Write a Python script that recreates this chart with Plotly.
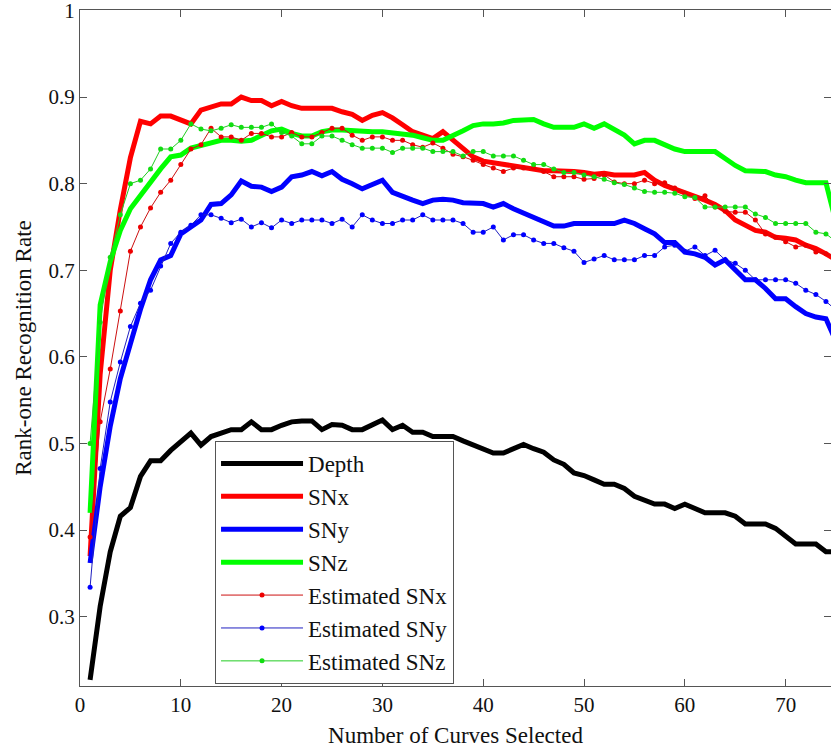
import plotly.graph_objects as go

x_curves = list(range(1, 76))

depth = [0.227, 0.312, 0.375, 0.416, 0.426, 0.462, 0.480, 0.480, 0.492, 0.502,
         0.512, 0.498, 0.508, 0.512, 0.516, 0.516, 0.525, 0.516, 0.516, 0.521,
         0.525, 0.526, 0.526, 0.516, 0.522, 0.521, 0.516, 0.516, 0.522, 0.527,
         0.516, 0.521, 0.513, 0.513, 0.508, 0.508, 0.508, 0.503, 0.498, 0.493,
         0.489, 0.489, 0.494, 0.499, 0.494, 0.490, 0.481, 0.476, 0.466, 0.463,
         0.458, 0.453, 0.453, 0.448, 0.439, 0.434, 0.430, 0.430, 0.425, 0.430,
         0.425, 0.420, 0.420, 0.420, 0.416, 0.407, 0.407, 0.407, 0.402, 0.393,
         0.384, 0.384, 0.384, 0.375, 0.375]

snx = [0.370, 0.580, 0.700, 0.770, 0.830, 0.872, 0.869, 0.878, 0.878, 0.874,
       0.869, 0.885, 0.888, 0.892, 0.892, 0.900, 0.896, 0.896, 0.890, 0.895,
       0.890, 0.887, 0.887, 0.887, 0.887, 0.883, 0.880, 0.873, 0.879, 0.882,
       0.876, 0.868, 0.860, 0.856, 0.852, 0.860, 0.850, 0.840, 0.831, 0.826,
       0.824, 0.822, 0.820, 0.818, 0.817, 0.815, 0.815, 0.815, 0.814, 0.813,
       0.811, 0.812, 0.810, 0.810, 0.810, 0.813, 0.804, 0.798, 0.794, 0.789,
       0.785, 0.781, 0.776, 0.769, 0.758, 0.752, 0.746, 0.744, 0.738, 0.737,
       0.735, 0.729, 0.725, 0.719, 0.712]

sny = [0.362, 0.450, 0.520, 0.575, 0.615, 0.655, 0.689, 0.712, 0.717, 0.742,
       0.750, 0.758, 0.776, 0.777, 0.787, 0.803, 0.797, 0.796, 0.791, 0.796,
       0.808, 0.810, 0.814, 0.809, 0.814, 0.805, 0.800, 0.794, 0.799, 0.804,
       0.790, 0.785, 0.781, 0.777, 0.781, 0.782, 0.781, 0.778, 0.778, 0.777,
       0.773, 0.777, 0.771, 0.766, 0.761, 0.756, 0.751, 0.751, 0.754, 0.754,
       0.754, 0.754, 0.754, 0.758, 0.754, 0.748, 0.742, 0.732, 0.732, 0.721,
       0.719, 0.715, 0.706, 0.712, 0.700, 0.689, 0.689, 0.679, 0.667, 0.667,
       0.658, 0.650, 0.646, 0.644, 0.618]

snz = [0.420, 0.660, 0.710, 0.746, 0.771, 0.787, 0.802, 0.817, 0.831, 0.833,
       0.841, 0.844, 0.848, 0.850, 0.850, 0.849, 0.850, 0.855, 0.861, 0.863,
       0.858, 0.855, 0.855, 0.860, 0.862, 0.862, 0.861, 0.860, 0.860, 0.860,
       0.859, 0.858, 0.856, 0.853, 0.850, 0.850, 0.855, 0.861, 0.867, 0.869,
       0.869, 0.870, 0.873, 0.874, 0.874, 0.869, 0.865, 0.865, 0.865, 0.869,
       0.864, 0.869, 0.862, 0.856, 0.846, 0.850, 0.850, 0.845, 0.840, 0.837,
       0.837, 0.837, 0.837, 0.829, 0.821, 0.815, 0.814, 0.814, 0.810, 0.808,
       0.804, 0.801, 0.801, 0.801, 0.755]

est_snx = [0.392, 0.525, 0.586, 0.653, 0.722, 0.750, 0.772, 0.790, 0.804, 0.822,
           0.840, 0.845, 0.864, 0.854, 0.854, 0.850, 0.858, 0.858, 0.854, 0.854,
           0.859, 0.854, 0.854, 0.859, 0.864, 0.864, 0.856, 0.850, 0.854, 0.854,
           0.850, 0.850, 0.845, 0.842, 0.847, 0.841, 0.834, 0.831, 0.827, 0.822,
           0.818, 0.814, 0.818, 0.818, 0.818, 0.814, 0.808, 0.808, 0.808, 0.805,
           0.806, 0.810, 0.802, 0.800, 0.800, 0.804, 0.800, 0.801, 0.795, 0.789,
           0.783, 0.786, 0.773, 0.768, 0.767, 0.767, 0.758, 0.742, 0.738, 0.733,
           0.727, 0.729, 0.721, 0.719, 0.715]

est_sny = [0.334, 0.471, 0.548, 0.594, 0.635, 0.662, 0.677, 0.705, 0.731, 0.744,
           0.752, 0.764, 0.764, 0.760, 0.755, 0.759, 0.750, 0.755, 0.749, 0.758,
           0.754, 0.758, 0.758, 0.758, 0.754, 0.759, 0.750, 0.764, 0.758, 0.754,
           0.754, 0.758, 0.758, 0.764, 0.758, 0.758, 0.758, 0.754, 0.744, 0.744,
           0.750, 0.735, 0.741, 0.741, 0.735, 0.731, 0.731, 0.726, 0.722, 0.709,
           0.713, 0.717, 0.712, 0.712, 0.712, 0.717, 0.717, 0.727, 0.729, 0.722,
           0.727, 0.717, 0.723, 0.712, 0.708, 0.700, 0.689, 0.689, 0.689, 0.689,
           0.685, 0.677, 0.672, 0.664, 0.654]

est_snz = [0.500, 0.640, 0.715, 0.764, 0.800, 0.804, 0.817, 0.840, 0.840, 0.850,
           0.869, 0.863, 0.861, 0.864, 0.868, 0.865, 0.865, 0.865, 0.869, 0.859,
           0.855, 0.846, 0.846, 0.855, 0.855, 0.850, 0.845, 0.841, 0.841, 0.841,
           0.836, 0.841, 0.841, 0.841, 0.837, 0.837, 0.837, 0.832, 0.837, 0.837,
           0.832, 0.832, 0.832, 0.827, 0.822, 0.822, 0.817, 0.813, 0.813, 0.810,
           0.808, 0.805, 0.801, 0.799, 0.795, 0.791, 0.790, 0.790, 0.789, 0.785,
           0.784, 0.773, 0.773, 0.773, 0.773, 0.773, 0.765, 0.761, 0.754, 0.754,
           0.754, 0.754, 0.744, 0.742, 0.733]

x_ticks = [0, 10, 20, 30, 40, 50, 60, 70]
y_ticks = [0.3, 0.4, 0.5, 0.6, 0.7, 0.8, 0.9, 1.0]
y_tick_labels = ["0.3", "0.4", "0.5", "0.6", "0.7", "0.8", "0.9", "1"]

FONT = "Liberation Serif"

fig = go.Figure()

thick = [("Depth", depth, "#000000"), ("SNx", snx, "#ff0000"),
         ("SNy", sny, "#0000ff"), ("SNz", snz, "#00ff00")]
for name, vals, col in thick:
    fig.add_trace(go.Scatter(x=x_curves, y=vals, mode="lines", name=name,
                             line=dict(color=col, width=5)))

thin = [("Estimated SNx", est_snx, "#cc1010", "#ee0000"),
        ("Estimated SNy", est_sny, "#2020c0", "#0000ff"),
        ("Estimated SNz", est_snz, "#22cc22", "#11dd11")]
for name, vals, lc, mc in thin:
    fig.add_trace(go.Scatter(x=x_curves, y=vals, mode="lines+markers", name=name,
                             line=dict(color=lc, width=1),
                             marker=dict(color=mc, size=5)))

axis_common = dict(showline=True, linecolor="#555555", linewidth=1, mirror="ticks",
                   ticks="inside", ticklen=7, tickcolor="#555555", showgrid=False,
                   zeroline=False, automargin=False, ticklabeloverflow="allow",
                   tickfont=dict(family=FONT, size=21, color="#111111"))

fig.update_xaxes(range=[0, 74.5], tickvals=x_ticks, **axis_common,
                 title=dict(text="Number of Curves Selected",
                            font=dict(family=FONT, size=23, color="#111111"), standoff=10))
fig.update_yaxes(range=[0.22, 1.0005], tickvals=y_ticks, ticktext=y_tick_labels, **axis_common,
                 title=dict(text="Rank-one Recognition Rate",
                            font=dict(family=FONT, size=23, color="#111111"), standoff=10))

fig.update_layout(
    width=831, height=752,
    margin=dict(l=80, r=0, t=10, b=66, autoexpand=False),
    paper_bgcolor="white", plot_bgcolor="white",
    font=dict(family=FONT, color="#111111"),
    legend=dict(x=0.1798, y=0.3624, xanchor="left", yanchor="top",
                bgcolor="white", bordercolor="#555555", borderwidth=1,
                font=dict(family=FONT, size=23, color="#111111"),
                itemwidth=82, tracegroupgap=0),
)

fig.write_html("out.html", config={"displayModeBar": False},
               post_script="document.body.style.margin='0';document.body.style.padding='0';")
